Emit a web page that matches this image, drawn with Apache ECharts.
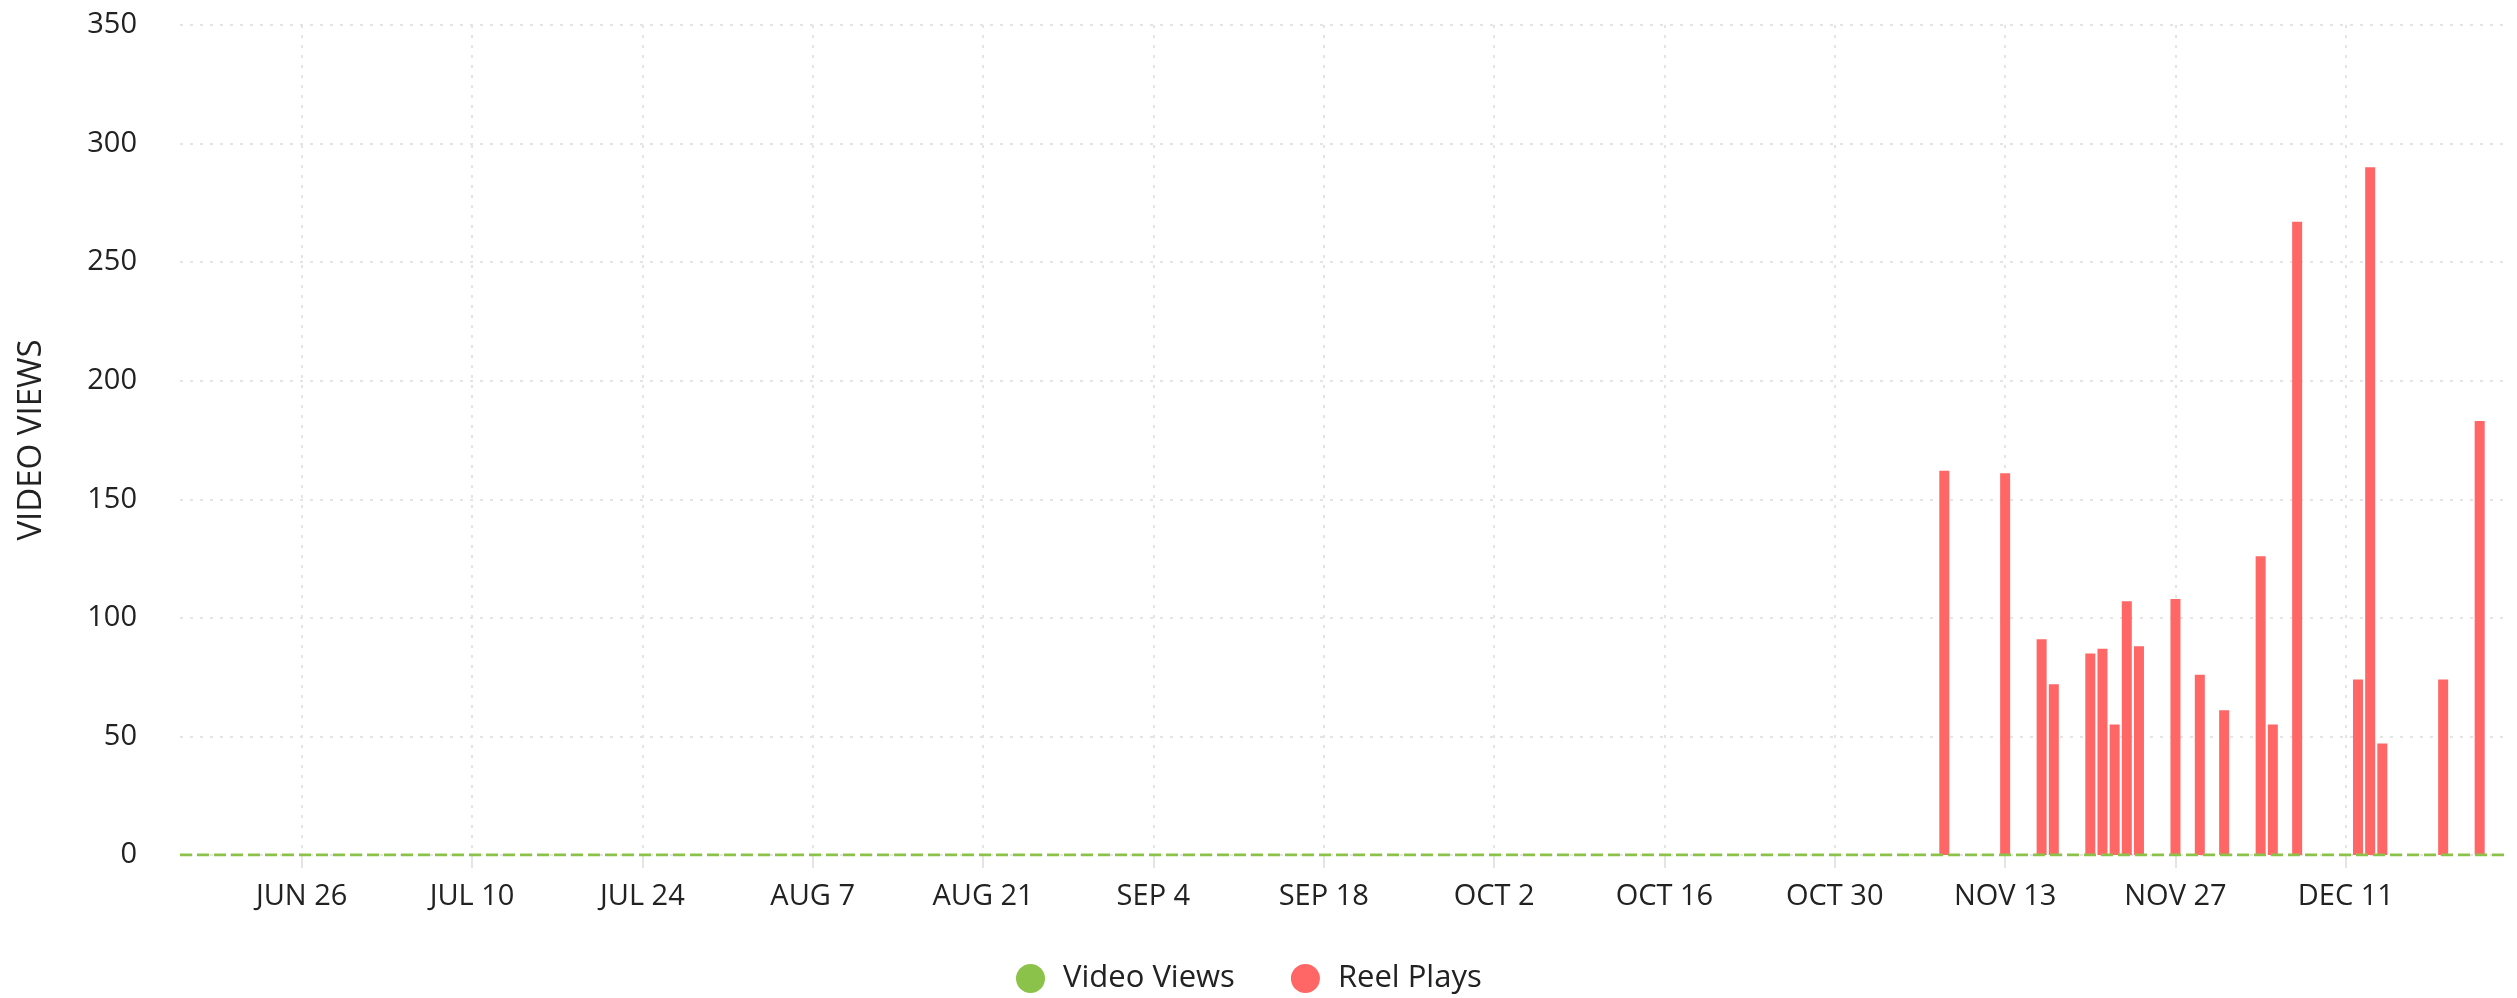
<!DOCTYPE html>
<html><head><meta charset="utf-8">
<script src="https://cdn.jsdelivr.net/npm/echarts@6/dist/echarts.min.js"></script>
<style>html,body{margin:0;padding:0;background:#fff}#c{width:2517px;height:998px}</style>
</head><body><div id="c"></div>
<script>
const MONTHS = ['JAN','FEB','MAR','APR','MAY','JUN','JUL','AUG','SEP','OCT','NOV','DEC'];
const firstDay = [2023, 5, 16];   // Jun 16
const lastDay = [2023, 11, 24];   // Dec 24
const tickLabels = ['JUN 26','JUL 10','JUL 24','AUG 7','AUG 21','SEP 4','SEP 18','OCT 2','OCT 16','OCT 30','NOV 13','NOV 27','DEC 11'];
const yTicks = [0, 50, 100, 150, 200, 250, 300, 350];
const reelDates = ['NOV 8','NOV 13','NOV 16','NOV 17','NOV 20','NOV 21','NOV 22','NOV 23','NOV 24','NOV 27','NOV 29','DEC 1','DEC 4','DEC 5','DEC 7','DEC 12','DEC 13','DEC 14','DEC 19','DEC 22'];
const reelValues = [162,161,91,72,85,87,55,107,88,108,76,61,126,55,267,74,290,47,74,183];
const videoViewsValue = 0; // every day reads 0 in the picture

const categories = [];
for (let d = new Date(Date.UTC(...firstDay)); d <= new Date(Date.UTC(...lastDay)); d.setUTCDate(d.getUTCDate() + 1)) {
  categories.push(MONTHS[d.getUTCMonth()] + ' ' + d.getUTCDate());
}
const reelData = categories.map(c => { const i = reelDates.indexOf(c); return i >= 0 ? reelValues[i] : 0; });
const videoData = categories.map(() => videoViewsValue);
const isTick = (i) => tickLabels.includes(categories[i]);

const FONT = 'Open Sans';
const gridColor = '#e4e4e4';
const chart = echarts.init(document.getElementById('c'), null, {renderer: 'canvas'});
chart.setOption({
  animation: false,
  textStyle: {fontFamily: FONT},
  grid: {left: 180, right: 13, top: 25, bottom: 143, containLabel: false},
  legend: {
    left: 1011, top: 958,
    icon: 'circle', itemWidth: 29, itemHeight: 29, itemGap: 56,
    textStyle: {fontFamily: FONT, fontSize: 31, color: '#222', padding: [0, 0, 0, 13]},
    data: ['Video Views', 'Reel Plays']
  },
  xAxis: {
    type: 'category', data: categories, boundaryGap: false,
    axisLine: {show: false},
    axisTick: {show: true, interval: isTick, length: 13, lineStyle: {color: gridColor, width: 2}},
    axisLabel: {interval: isTick, fontFamily: FONT, fontSize: 29, color: '#222', margin: 27},
    splitLine: {show: true, interval: isTick, lineStyle: {color: gridColor, width: 2, type: [3, 7]}}
  },
  yAxis: {
    type: 'value', min: yTicks[0], max: yTicks[yTicks.length - 1], interval: yTicks[1] - yTicks[0],
    name: 'VIDEO VIEWS', nameLocation: 'middle', nameRotate: 90, nameGap: 132,
    nameTextStyle: {fontFamily: FONT, fontSize: 33, color: '#222'},
    axisLine: {show: false}, axisTick: {show: false},
    axisLabel: {fontFamily: FONT, fontSize: 29, color: '#222', margin: 43},
    splitLine: {show: true, lineStyle: {color: gridColor, width: 2, type: [3, 7]}}
  },
  series: [
    {name: 'Video Views', type: 'line', data: videoData, showSymbol: false, symbol: 'none', z: 5,
     itemStyle: {color: '#8bc34a'}, lineStyle: {color: '#8bc34a', width: 3, type: [12, 5]}},
    {name: 'Reel Plays', type: 'bar', data: reelData, barWidth: 10, z: 2,
     itemStyle: {color: '#ff6666'}}
  ]
});
</script></body></html>
